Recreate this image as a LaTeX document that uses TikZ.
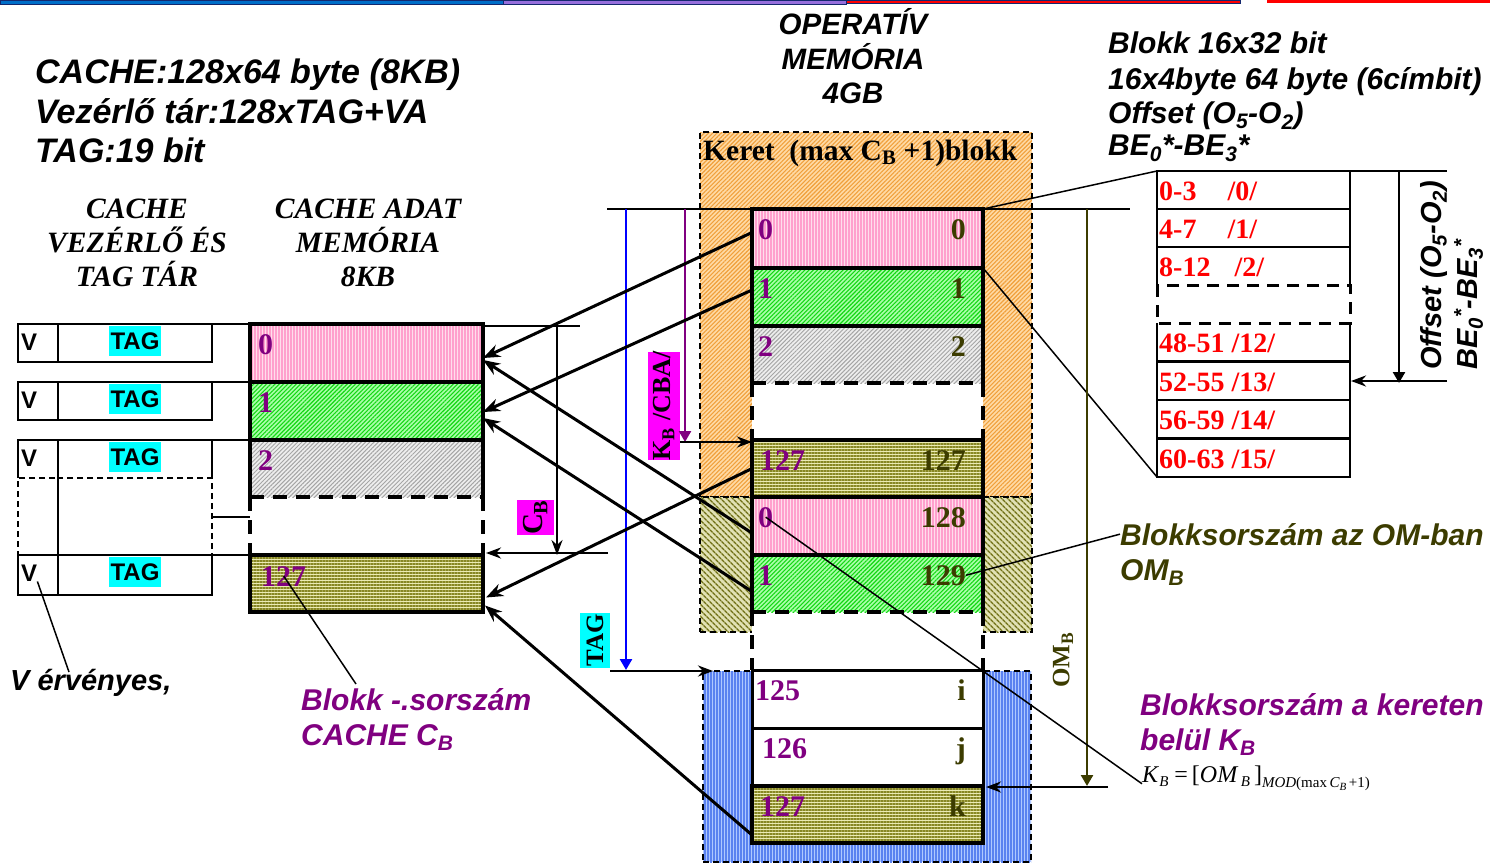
\documentclass[tikz,border=0pt]{standalone}
\usepackage{fontspec}
\setmainfont{Liberation Serif}
\newfontfamily\arialf{Liberation Sans}
\usetikzlibrary{patterns.meta,arrows.meta,calc}
\definecolor{pinkbase}{RGB}{255,222,236}
\definecolor{pinkline}{RGB}{255,160,205}
\definecolor{greenbase}{RGB}{170,255,170}
\definecolor{greenline}{RGB}{20,215,20}
\definecolor{graybase}{RGB}{238,238,238}
\definecolor{grayline}{RGB}{165,165,165}
\definecolor{olivebase}{RGB}{235,235,180}
\definecolor{oliveline}{RGB}{135,135,35}
\definecolor{orangebase}{RGB}{255,218,165}
\definecolor{orangeline}{RGB}{240,160,60}
\definecolor{okbase}{RGB}{225,225,180}
\definecolor{okline}{RGB}{110,110,20}
\definecolor{bluebase}{RGB}{175,200,255}
\definecolor{blueline}{RGB}{90,130,240}
\definecolor{mpurple}{RGB}{128,0,128}
\definecolor{dolive}{RGB}{60,60,0}
\definecolor{navyc}{RGB}{20,40,110}
\definecolor{barblue}{RGB}{0,110,200}
\definecolor{barpurple}{RGB}{150,110,220}
\definecolor{mcyan}{RGB}{0,255,255}
\definecolor{mmagenta}{RGB}{255,0,255}
\definecolor{mblue}{RGB}{0,0,255}
\definecolor{mred}{RGB}{255,0,0}
\begin{document}
\begin{tikzpicture}[x=1pt,y=-1pt,
  blk/.style={draw,line width=3.5pt,minimum width=231pt,inner sep=0pt,outer sep=0pt,anchor=north west},
  cblk/.style={blk,minimum width=233pt},
  pinkF/.style={preaction={fill=pinkbase},pattern={Lines[angle=90,distance=3pt,line width=1.1pt]},pattern color=pinkline},
  greenF/.style={preaction={fill=greenbase},pattern={Lines[angle=45,distance=3pt,line width=1.1pt]},pattern color=greenline},
  grayF/.style={preaction={fill=graybase},pattern={Lines[angle=45,distance=3pt,line width=1pt]},pattern color=grayline},
  oliveF/.style={preaction={fill=olivebase},pattern={Lines[angle=0,distance=3pt,line width=1.2pt]},pattern color=oliveline},
  orangeF/.style={preaction={fill=orangebase},pattern={Lines[angle=45,distance=3pt,line width=1.1pt]},pattern color=orangeline},
  okF/.style={preaction={fill=okbase},pattern={Lines[angle=-45,distance=4pt,line width=1.4pt]},pattern color=okline},
  blueF/.style={preaction={fill=bluebase},pattern={Lines[angle=90,distance=3pt,line width=1.1pt]},pattern color=blueline},
  region/.style={draw,line width=1.8pt,dash pattern=on 6pt off 4pt,inner sep=0pt,outer sep=0pt,anchor=north west},
  gapdash/.style={line width=3.5pt,dash pattern=on 14pt off 9pt},
  solidb/.style={line width=3.5pt},
  tagbox/.style={draw,line width=2pt,inner sep=0pt,outer sep=0pt,anchor=north west,minimum height=38pt},
  vlab/.style={font=\arialf\bfseries\fontsize{24}{24}\selectfont,anchor=west,inner sep=0pt},
  taglab/.style={font=\arialf\bfseries\fontsize{24}{24}\selectfont,fill=mcyan,inner sep=1.5pt,minimum height=30pt},
  labL/.style={font=\bfseries\fontsize{30}{30}\selectfont,text=mpurple,anchor=base west,inner sep=0pt},
  labR/.style={font=\bfseries\fontsize{30}{30}\selectfont,text=dolive,anchor=base east,inner sep=0pt},
  ab/.style={font=\arialf\bfseries\itshape\fontsize{30}{36}\selectfont,inner sep=0pt,anchor=base west},
  tb/.style={font=\bfseries\itshape\fontsize{29.5}{34}\selectfont,inner sep=0pt,anchor=base},
  redlab/.style={font=\bfseries\fontsize{28}{28}\selectfont,text=mred,anchor=base west,inner sep=0pt},
  rotlab/.style={font=\bfseries\fontsize{26}{26}\selectfont,rotate=90,inner sep=0pt},
  thinline/.style={line width=1.5pt},
  bigarrow/.style={line width=3pt,-{Stealth[length=17pt,width=13pt]}},
  medarrow/.style={line width=2.5pt,-{Stealth[length=15pt,width=11pt]}},
  colarrow/.style={line width=2.5pt,-{Triangle[length=11pt,width=12pt]}},
  tbox/.style={draw,line width=2.5pt,minimum width=193pt,minimum height=38pt,inner sep=0pt,outer sep=0pt,anchor=north west}
]
\useasboundingbox (0,0) rectangle (1490,867);

% top bars
\filldraw[draw=navyc,fill=barblue,line width=1pt] (0,0.5) rectangle (503,4.5);
\filldraw[draw=navyc,fill=barpurple,line width=1pt] (503,0.5) rectangle (846,4.5);
\filldraw[draw=navyc,fill=mred,line width=1pt] (846,0.5) rectangle (1240,4);
\fill[mred] (1267,0) rectangle (1490,3.5);

% top-left text
\node[ab,font=\arialf\bfseries\itshape\fontsize{34}{40}\selectfont] (tl1) at (35,83) {CACHE:128x64 byte (8KB)};
\node[ab,font=\arialf\bfseries\itshape\fontsize{34}{40}\selectfont] (tl2) at (35,123) {Vezérlő tár:128xTAG+VA};
\node[ab,font=\arialf\bfseries\itshape\fontsize{34}{40}\selectfont] (tl3) at (35,162) {TAG:19 bit};

% headers
\node[tb] (h1a) at (137,218) {CACHE};
\node[tb] (h1b) at (137,252) {VEZÉRLŐ ÉS};
\node[tb] (h1c) at (137,286) {TAG TÁR};
\node[tb] (h2a) at (368,218) {CACHE ADAT};
\node[tb] (h2b) at (368,252) {MEMÓRIA};
\node[tb] (h2c) at (368,286) {8KB};

\node[ab,anchor=base,font=\arialf\bfseries\itshape\fontsize{29.5}{34}\selectfont] (op1) at (853,35) {OPERATÍV};
\node[ab,anchor=base,font=\arialf\bfseries\itshape\fontsize{29.5}{34}\selectfont] (op2) at (853,70) {MEMÓRIA};
\node[ab,anchor=base,font=\arialf\bfseries\itshape\fontsize{29.5}{34}\selectfont] (op3) at (853,103) {4GB};

\node[ab] (br1) at (1108,53) {Blokk 16x32 bit};
\node[ab] (br2) at (1108,89) {16x4byte 64 byte (6címbit)};
\node[ab] (br3) at (1108,123) {Offset (O\textsubscript{5}-O\textsubscript{2})};
\node[ab] (br4) at (1108,155) {BE\textsubscript{0}*-BE\textsubscript{3}*};

% memory regions
\node[region,orangeF,minimum width=332pt,minimum height=365pt] (orR) at (700,132) {};
\node[region,okF,minimum width=332pt,minimum height=135pt] (okR) at (700,497) {};
\node[region,blueF,minimum width=328pt,minimum height=191pt] (blueR) at (703,671) {};
\node[font=\bfseries\fontsize{29.5}{29}\selectfont,anchor=base west,inner sep=0pt] (keret) at (703,160) {Keret\ \ (max C\textsubscript{B} +1)blokk};

% white gaps in memory column
\fill[white] (752,383) rectangle (983,440);
\fill[white] (752,612) rectangle (983,670);

% memory blocks
\node[blk,pinkF,minimum height=59pt] (m0) at (752,209) {};
\node[blk,greenF,minimum height=58pt] (m1) at (752,268) {};
\node[blk,grayF,draw=none,minimum height=57pt] (m2) at (752,326) {};
\draw[solidb] (m2.south west) -- (m2.north west) -- (m2.north east) -- (m2.south east);
\node[blk,oliveF,minimum height=57pt] (m127) at (752,440) {};
\draw[gapdash] (m2.south west) -- (m2.south east);
\draw[gapdash] (m2.south west) -- (m127.north west);
\draw[gapdash] (m2.south east) -- (m127.north east);
\node[blk,pinkF,minimum height=58pt] (m128) at (752,497) {};
\node[blk,greenF,draw=none,minimum height=57pt] (m129) at (752,555) {};
\draw[solidb] (m129.south west) -- (m129.north west) -- (m129.north east) -- (m129.south east);
\node[blk,fill=white,line width=3pt,minimum height=58pt] (m125) at (752,670) {};
\draw[gapdash] (m129.south west) -- (m129.south east);
\draw[gapdash] (m129.south west) -- (m125.north west);
\draw[gapdash] (m129.south east) -- (m125.north east);
\node[blk,fill=white,line width=3pt,minimum height=58pt] (m126) at (752,728) {};
\node[blk,oliveF,minimum height=57pt] (m127k) at (752,786) {};

% memory labels
\node[labL] (ml0) at (758,239) {0};
\node[labR] (mr0) at (966,239) {0};
\node[labL] (ml1) at (758,298) {1};
\node[labR] (mr1) at (966,298) {1};
\node[labL] (ml2) at (758,356) {2};
\node[labR] (mr2) at (966,356) {2};
\node[labL] (ml127) at (760,470) {127};
\node[labR] (mr127) at (966,470) {127};
\node[labL] (ml128) at (758,527) {0};
\node[labR] (mr128) at (966,527) {128};
\node[labL] (ml129) at (758,585) {1};
\node[labR] (mr129) at (966,585) {129};
\node[labL] (ml125) at (755,700) {125};
\node[labR] (mr125) at (966,700) {i};
\node[labL] (ml126) at (762,758) {126};
\node[labR] (mr126) at (966,758) {j};
\node[labL] (ml127k) at (760,816) {127};
\node[labR] (mr127k) at (966,816) {k};

% cache data blocks
\node[cblk,pinkF,minimum height=58pt] (c0) at (250,324) {};
\node[cblk,greenF,minimum height=58pt] (c1) at (250,382) {};
\node[cblk,grayF,draw=none,minimum height=57pt] (c2) at (250,440) {};
\draw[solidb] (c2.south west) -- (c2.north west) -- (c2.north east) -- (c2.south east);
\node[cblk,oliveF,minimum height=57pt] (c127) at (250,555) {};
\draw[gapdash] (c2.south west) -- (c2.south east);
\draw[gapdash] (c2.south west) -- (c127.north west);
\draw[gapdash] (c2.south east) -- (c127.north east);
\node[labL] (cl0) at (258,354) {0};
\node[labL] (cl1) at (258,412) {1};
\node[labL] (cl2) at (258,470) {2};
\node[labL] (cl127) at (261,586) {127};

% tag store
\node[tagbox,minimum width=40pt] (v0) at (18,324) {};
\node[tagbox,minimum width=154pt] (t0) at (58,324) {};
\node[tagbox,minimum width=40pt] (v1) at (18,382) {};
\node[tagbox,minimum width=154pt] (t1) at (58,382) {};
\node[tagbox,draw=none,minimum width=40pt] (v2) at (18,440) {};
\node[tagbox,draw=none,minimum width=154pt] (t2) at (58,440) {};
\draw[line width=2pt] (v2.south west) -- (v2.north west) -- (t2.north east) -- (t2.south east);
\draw[line width=2pt] (v2.north east) -- (v2.south east);
\node[tagbox,line width=1.6pt,dash pattern=on 6pt off 4pt,minimum width=40pt,minimum height=77pt] (vd) at (18,478) {};
\node[tagbox,line width=1.6pt,dash pattern=on 6pt off 4pt,minimum width=154pt,minimum height=77pt] (td) at (58,478) {};
\node[tagbox,minimum width=40pt,minimum height=40pt] (v127) at (18,555) {};
\node[tagbox,minimum width=154pt,minimum height=40pt] (t127) at (58,555) {};
\node[vlab] (vl0) at (21,342) {V};
\node[vlab] (vl1) at (21,400) {V};
\node[vlab] (vl2) at (21,458) {V};
\node[vlab] (vl127) at (21,573) {V};
\node[taglab] (tg0) at (135,341) {TAG};
\node[taglab] (tg1) at (135,399) {TAG};
\node[taglab] (tg2) at (135,457) {TAG};
\node[taglab] (tg127) at (135,572) {TAG};
\draw[line width=2pt] (t0.north east) -- (c0.north west);
\draw[line width=2pt] (t1.north east) -- (c1.north west);
\draw[line width=2pt] (t2.north east) -- (c2.north west);
\draw[line width=2pt] (td.east) -- (td.east -| c0.west);
\draw[line width=2pt] (t127.north east) -- (c127.north west);

% offset table
\node[tbox] (o0) at (1157,171) {};
\node[tbox] (o1) at (1157,209) {};
\node[tbox,draw=none] (o2) at (1157,247) {};
\draw[line width=2.5pt] (o2.south west) -- (o2.north west) -- (o2.north east) -- (o2.south east);
\node[tbox,draw=none] (o12) at (1157,323) {};
\draw[line width=2.5pt] (o12.north west) -- (o12.south west) -- (o12.south east) -- (o12.north east);
\draw[line width=3pt,dash pattern=on 12pt off 8pt] (o2.south west) rectangle (o12.north east);
\node[tbox] (o13) at (1157,362) {};
\node[tbox] (o14) at (1157,400) {};
\node[tbox] (o15) at (1157,439) {};
\node[redlab] (r0) at (1159,200) {0-3\hspace{31pt}/0/};
\node[redlab] (r1) at (1159,238) {4-7\hspace{31pt}/1/};
\node[redlab] (r2) at (1159,276) {8-12\hspace{24pt}/2/};
\node[redlab] (r12) at (1159,352) {48-51 /12/};
\node[redlab] (r13) at (1159,391) {52-55 /13/};
\node[redlab] (r14) at (1159,429) {56-59 /14/};
\node[redlab] (r15) at (1159,468) {60-63 /15/};

\coordinate (ofR) at (1447,171);
\coordinate (ofT) at (1399,171);
\coordinate (ofB) at (1399,383);
\coordinate (ofS) at (1447,381);
\draw[thinline] (o0.north east) -- (ofR);
\draw[colarrow] (ofT) -- (ofB);
\draw[medarrow] (ofS) -- ([xshift=1pt]o13.east);
\node[font=\arialf\bfseries\itshape\fontsize{29}{36}\selectfont,rotate=90,anchor=north west,align=left,inner sep=0pt] (offrot) at (1420,370) {Offset (O\textsubscript{5}-O\textsubscript{2})\\BE\textsubscript{0}\textsuperscript{*}-BE\textsubscript{3}\textsuperscript{*}};
\draw[thinline] (m0.north east) -- (o0.north west);
\draw[thinline] (m0.south east) -- (o15.south west);

% rotated labels
\node[rotlab,fill=mmagenta,font=\bfseries\fontsize{29}{29}\selectfont,minimum width=35pt,minimum height=37pt] (cbl) at (535.5,517.5) {C\textsubscript{B}};
\node[rotlab,fill=mmagenta,minimum width=107pt,minimum height=32pt] (kbl) at (664,406) {K\textsubscript{B} /CBA/};
\node[rotlab,fill=mcyan,font=\bfseries\fontsize{25}{25}\selectfont,minimum width=55pt,minimum height=30pt] (tgl) at (595,640.5) {TAG};
\node[rotlab,text=dolive,font=\bfseries\fontsize{25}{25}\selectfont] (oml) at (1063,660) {OM\textsubscript{B}};

% C_B arrow
\coordinate (cbR) at (580,326);
\coordinate (cbT) at (557,326);
\coordinate (cbB) at (557,555);
\coordinate (cbS) at (608,553);
\draw[thinline] ([yshift=-2pt]c0.north east) -- (cbR);
\draw[line width=2pt,-{Stealth[length=15pt,width=11pt]}] (cbT) -- (cbB);
\draw[medarrow] (cbS) -- ([xshift=3pt,yshift=2pt]c127.north east);

% K_B and TAG arrows
\coordinate (topL) at (607,209);
\draw[thinline] (topL) -- (m0.north west);
\coordinate (pTop) at (685,209);
\coordinate (pBot) at (685,442);
\draw[colarrow,mpurple] (pTop) -- (pBot);
\coordinate (kbS) at (680,442);
\draw[medarrow] (kbS) -- ([yshift=-2pt]m127.north west);
\coordinate (bTop) at (626,209);
\coordinate (bBot) at (626,670);
\draw[colarrow,mblue] (bTop) -- (bBot);
\coordinate (tgS) at (610,671);
\draw[medarrow] (tgS) -- ([xshift=10pt]blueR.north west);

% OM_B arrow
\coordinate (omR) at (1130,209);
\draw[thinline] (m0.north east) -- (omR);
\coordinate (omT) at (1087,209);
\coordinate (omB) at (1087,786);
\draw[colarrow,dolive] (omT) -- (omB);
\coordinate (omS) at (1108,787);
\draw[medarrow] (omS) -- ([xshift=3pt,yshift=-1pt]m127k.north east);

% memory -> cache arrows
\draw[bigarrow] ([yshift=6pt]m0.west) -- ([yshift=-5pt]c0.east);
\draw[bigarrow] ([yshift=-7pt]m128.west) -- ([yshift=-7pt]c0.east);
\draw[bigarrow] ([yshift=7pt]m1.west) -- ([yshift=-1pt]c1.east);
\draw[bigarrow] ([yshift=-8pt]m129.west) -- ([yshift=-7pt]c1.east);
\draw[bigarrow] (m127.west) -- ([xshift=3pt,yshift=-14pt]c127.east);
\draw[bigarrow] ([yshift=8pt]m127k.south west) -- ([xshift=2pt,yshift=-22pt]c127.east);

% annotations
\node[ab,font=\arialf\bfseries\itshape\fontsize{29}{35}\selectfont] (verv) at (10,690) {V érvényes,};
\node[ab,text=mpurple] (bsor) at (301,710) {Blokk -.sorszám};
\node[ab,text=mpurple] (bsor2) at (301,745) {CACHE C\textsubscript{B}};
\node[ab,text=dolive] (bsom) at (1120,545) {Blokksorszám az OM-ban};
\node[ab,text=dolive] (bsom2) at (1120,580) {OM\textsubscript{B}};
\node[ab,text=mpurple] (bsk) at (1140,715) {Blokksorszám a kereten};
\node[ab,text=mpurple] (bsk2) at (1140,750) {belül K\textsubscript{B}};
\node[anchor=base west,inner sep=0pt,font=\fontsize{24}{26}\selectfont] (kform) at (1142,782) {\textit{K}\raisebox{-4pt}{\fontsize{15}{15}\selectfont\textit{B}}\ =\,[\textit{OM}\raisebox{-4pt}{\fontsize{15}{15}\selectfont\,\textit{B}}\,]\raisebox{-5pt}{\fontsize{15}{15}\selectfont\textit{MOD}(max\,\textit{C}\raisebox{-3pt}{\fontsize{11}{11}\selectfont\textit{B}}\,+1)}};

\draw[thinline] (vl127.south east) -- ($(verv.base west)+(59,-18)$);
\draw[thinline] (cl127.center) -- ($(bsor.base west)+(55,-26)$);
\draw[thinline] (mr129.east) -- (bsom.west);
\draw[thinline] (ml128.center) -- ([yshift=-6pt]kform.west);
\end{tikzpicture}
\end{document}
